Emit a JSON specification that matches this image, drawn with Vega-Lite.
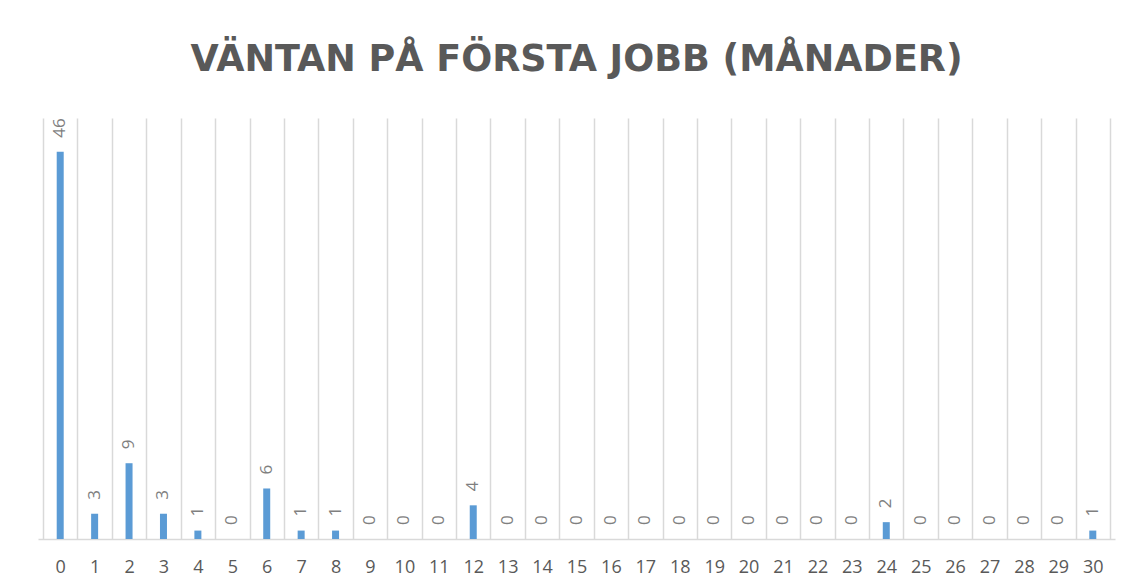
{
  "$schema": "https://vega.github.io/schema/vega-lite/v6.json",
  "width": 1077,
  "height": 421,
  "autosize": {"type": "none"},
  "padding": {"left": 38, "top": 118, "right": 15, "bottom": 48},
  "background": "white",
  "config": {
    "view": {"stroke": null},
    "font": "Open Sans"
  },
  "title": {
    "text": "VÄNTAN PÅ FÖRSTA JOBB (MÅNADER)",
    "font": "DejaVu Sans",
    "fontSize": 36.5,
    "fontWeight": "bold",
    "color": "#595959",
    "anchor": "middle",
    "offset": 40
  },
  "data": {
    "values": [
      {"m": 0, "n": 46}, {"m": 1, "n": 3}, {"m": 2, "n": 9}, {"m": 3, "n": 3},
      {"m": 4, "n": 1}, {"m": 5, "n": 0}, {"m": 6, "n": 6}, {"m": 7, "n": 1},
      {"m": 8, "n": 1}, {"m": 9, "n": 0}, {"m": 10, "n": 0}, {"m": 11, "n": 0},
      {"m": 12, "n": 4}, {"m": 13, "n": 0}, {"m": 14, "n": 0}, {"m": 15, "n": 0},
      {"m": 16, "n": 0}, {"m": 17, "n": 0}, {"m": 18, "n": 0}, {"m": 19, "n": 0},
      {"m": 20, "n": 0}, {"m": 21, "n": 0}, {"m": 22, "n": 0}, {"m": 23, "n": 0},
      {"m": 24, "n": 2}, {"m": 25, "n": 0}, {"m": 26, "n": 0}, {"m": 27, "n": 0},
      {"m": 28, "n": 0}, {"m": 29, "n": 0}, {"m": 30, "n": 1}
    ]
  },
  "resolve": {"axis": {"x": "independent"}},
  "layer": [
    {
      "mark": {"type": "bar", "width": 7, "color": "#5B9BD5"},
      "encoding": {
        "x": {
          "field": "m", "type": "quantitative",
          "scale": {"domain": [-0.5, 30.5], "nice": false, "zero": false},
          "axis": {
            "title": null,
            "grid": false,
            "values": [0,1,2,3,4,5,6,7,8,9,10,11,12,13,14,15,16,17,18,19,20,21,22,23,24,25,26,27,28,29,30],
            "ticks": false,
            "domain": true,
            "domainColor": "#D9D9D9",
            "domainWidth": 1.5,
            "labelFont": "Open Sans",
            "labelFontSize": 18,
            "labelColor": "#595959",
            "labelPadding": 19,
            "labelFlush": false,
            "labelOverlap": false
          }
        },
        "y": {
          "field": "n", "type": "quantitative",
          "scale": {"domain": [0, 50], "nice": false},
          "axis": null
        }
      }
    },
    {
      "mark": {"type": "text", "angle": 270, "align": "left", "baseline": "middle", "dx": 14, "fontSize": 17, "color": "#7F7F7F", "font": "Open Sans"},
      "encoding": {
        "x": {
          "field": "m", "type": "quantitative",
          "axis": {
            "title": null,
            "grid": true,
            "gridColor": "#D9D9D9",
            "gridWidth": 1.5,
            "values": [-0.5,0.5,1.5,2.5,3.5,4.5,5.5,6.5,7.5,8.5,9.5,10.5,11.5,12.5,13.5,14.5,15.5,16.5,17.5,18.5,19.5,20.5,21.5,22.5,23.5,24.5,25.5,26.5,27.5,28.5,29.5,30.5],
            "labels": false,
            "ticks": false,
            "domain": false
          }
        },
        "y": {"field": "n", "type": "quantitative"},
        "text": {"field": "n", "type": "quantitative"}
      }
    }
  ]
}
